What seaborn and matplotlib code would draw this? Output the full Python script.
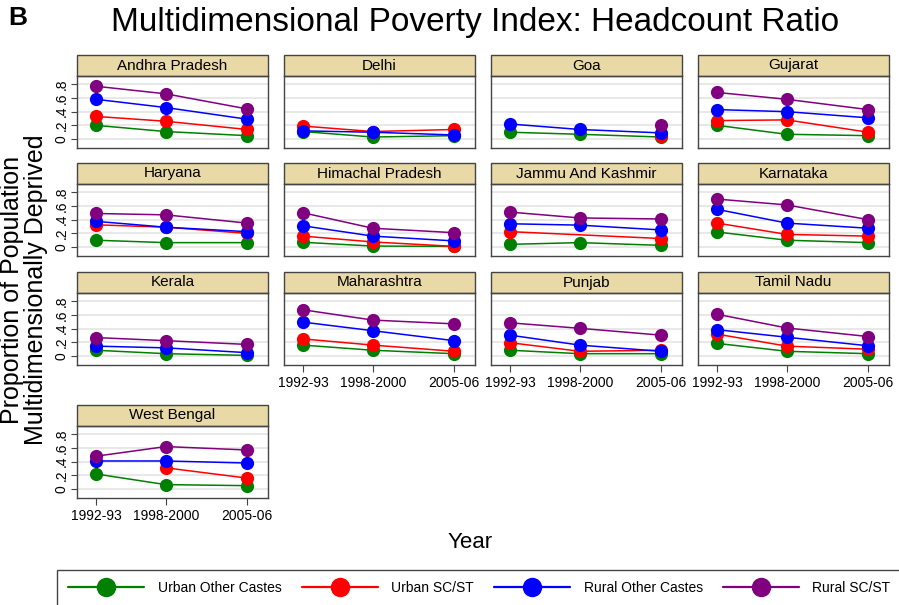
import numpy as np
import pandas as pd
import matplotlib
matplotlib.use("Agg")
import matplotlib.pyplot as plt
import seaborn as sns
from matplotlib.patches import Rectangle
from matplotlib.lines import Line2D

nan = np.nan

states = ["Andhra Pradesh", "Delhi", "Goa", "Gujarat",
          "Haryana", "Himachal Pradesh", "Jammu And Kashmir", "Karnataka",
          "Kerala", "Maharashtra", "Punjab", "Tamil Nadu",
          "West Bengal"]
periods = ["1992-93", "1998-2000", "2005-06"]
survey_year = [1992, 1998, 2005]
groups = ["Urban Other Castes", "Urban SC/ST", "Rural Other Castes", "Rural SC/ST"]
colors = ["#008000", "#ff0000", "#0000ff", "#800080"]
ytick_vals = [0, 0.2, 0.4, 0.6, 0.8]
ytick_labels = ["0", ".2", ".4", ".6", ".8"]

urban_other = [
    [0.20, 0.11, 0.05],   # Andhra Pradesh
    [0.11, 0.03, 0.05],   # Delhi
    [0.10, 0.07, 0.03],   # Goa
    [0.20, 0.07, 0.05],   # Gujarat
    [0.10, 0.065, 0.065], # Haryana
    [0.07, 0.015, 0.01],  # Himachal Pradesh
    [0.04, 0.065, 0.025], # Jammu And Kashmir
    [0.22, 0.10, 0.065],  # Karnataka
    [0.085, 0.035, 0.01], # Kerala
    [0.16, 0.085, 0.035], # Maharashtra
    [0.085, 0.035, 0.035],# Punjab
    [0.185, 0.07, 0.035], # Tamil Nadu
    [0.22, 0.065, 0.05],  # West Bengal
]
urban_scst = [
    [0.33, 0.26, 0.14],
    [0.19, 0.11, 0.14],
    [nan, nan, 0.04],
    [0.27, 0.28, 0.10],
    [0.325, 0.29, 0.20],
    [0.16, 0.075, 0.01],
    [0.225, nan, 0.125],
    [0.35, 0.185, 0.16],
    [nan, nan, nan],
    [0.25, 0.16, 0.07],
    [0.195, 0.07, 0.085],
    [0.32, 0.145, 0.10],
    [nan, 0.31, 0.16],
]
rural_other = [
    [0.58, 0.46, 0.29],
    [0.12, 0.10, 0.06],
    [0.22, 0.14, 0.09],
    [0.43, 0.40, 0.31],
    [0.375, 0.29, 0.225],
    [0.31, 0.16, 0.09],
    [0.34, 0.32, 0.25],
    [0.55, 0.35, 0.275],
    [0.145, 0.12, 0.05],
    [0.495, 0.37, 0.225],
    [0.305, 0.16, 0.07],
    [0.385, 0.275, 0.15],
    [0.41, 0.41, 0.38],
]
rural_scst = [
    [0.77, 0.66, 0.44],
    [nan, nan, nan],
    [nan, nan, 0.21],
    [0.68, 0.58, 0.43],
    [0.49, 0.47, 0.35],
    [0.50, 0.275, 0.21],
    [0.51, 0.425, 0.41],
    [0.70, 0.615, 0.40],
    [0.27, 0.225, 0.17],
    [0.675, 0.525, 0.47],
    [0.485, 0.405, 0.305],
    [0.61, 0.41, 0.285],
    [0.48, 0.62, 0.57],
]

sns.set_theme(style="white")
plt.rcParams["font.family"] = ["Liberation Sans", "DejaVu Sans"]
plt.rcParams["text.color"] = "black"
plt.rcParams["xtick.color"] = "black"
plt.rcParams["ytick.color"] = "black"
plt.rcParams["axes.labelcolor"] = "black"

rows = []
for g, vals in zip(groups, [urban_other, urban_scst, rural_other, rural_scst]):
    for s, v in zip(states, vals):
        for p, yr, val in zip(periods, survey_year, v):
            rows.append(dict(state=s, group=g, period=p, year=yr, value=val))
df = pd.DataFrame(rows).dropna()

W, H = 899, 605
fig = plt.figure(figsize=(W / 100, H / 100), dpi=100)
fig.patch.set_facecolor("white")

col_left = [77, 284, 491, 698]
row_top = [76, 184, 293, 426]
ax_w, ax_h, strip_h = 191, 72, 21
edge = "#444444"
palette = dict(zip(groups, colors))
n = len(states)

for i, st in enumerate(states):
    r, c = divmod(i, 4)
    ax = fig.add_axes([col_left[c] / W, 1 - (row_top[r] + ax_h) / H, ax_w / W, ax_h / H])
    sub = df[df.state == st]
    sns.lineplot(data=sub, x="year", y="value", hue="group", hue_order=groups,
                 palette=palette, marker="o", markersize=9.5, markeredgewidth=0,
                 linewidth=1.1, estimator=None, legend=False, ax=ax)
    ax.set_xlim(1990.35, 2006.8)
    ax.set_ylim(-0.13, 0.92)
    ax.set_xlabel("")
    ax.set_ylabel("")
    ax.set_yticks(ytick_vals)
    ax.set_xticks(survey_year)
    ax.grid(axis="y", color="#e8e8e8", lw=1.4)
    ax.grid(axis="x", visible=False)
    ax.set_axisbelow(True)
    for sp in ax.spines.values():
        sp.set_color(edge)
        sp.set_linewidth(1.0)
    if c == 0:
        ax.set_yticklabels(ytick_labels, rotation=90, va="center", fontsize=10)
        ax.tick_params(axis="y", left=True, length=4, width=0.8, color=edge, pad=2)
    else:
        ax.tick_params(axis="y", left=False, labelleft=False)
    if i >= n - 4:
        ax.set_xticklabels(periods, fontsize=10)
        ax.tick_params(axis="x", bottom=True, length=5, width=0.8, color=edge, pad=3)
    else:
        ax.tick_params(axis="x", bottom=False, labelbottom=False)
    ax.add_patch(Rectangle((0, 1), 1, strip_h / ax_h, transform=ax.transAxes,
                           clip_on=False, facecolor="#e8d9a6", edgecolor=edge, lw=1.0))
    ax.text(0.5, 1 + strip_h / ax_h / 2, st, transform=ax.transAxes,
            ha="center", va="center", fontsize=11, color="black")

fig.text(475.5 / W, 1 - 22 / H, "Multidimensional Poverty Index: Headcount Ratio",
         ha="center", va="center", fontsize=24, color="black")
fig.text(8 / W, 1 - 18 / H, "B", ha="left", va="center", fontsize=19, weight="bold",
         color="black")
fig.text(24 / W, 1 - 290 / H, "Proportion of Population\nMultidimensionally Deprived",
         rotation=90, ha="center", va="center", fontsize=18, linespacing=0.95, color="black")
fig.text(470 / W, 1 - 543 / H, "Year", ha="center", va="center", fontsize=16, color="black")

handles = [Line2D([], [], color=col, marker="o", markersize=14, markeredgewidth=0, lw=1.6)
           for col in colors]
leg = fig.legend(handles, groups, loc="upper left", bbox_to_anchor=(50 / W, 1 - 563 / H),
                 ncol=4, fontsize=10, handlelength=5.5, handletextpad=0.95,
                 columnspacing=1.45, borderpad=0.8, fancybox=False, frameon=True,
                 framealpha=1, edgecolor=edge)
leg.get_frame().set_linewidth(1.0)
for t in leg.get_texts():
    t.set_color("black")

fig.savefig("out.png", dpi=100, facecolor="white")
